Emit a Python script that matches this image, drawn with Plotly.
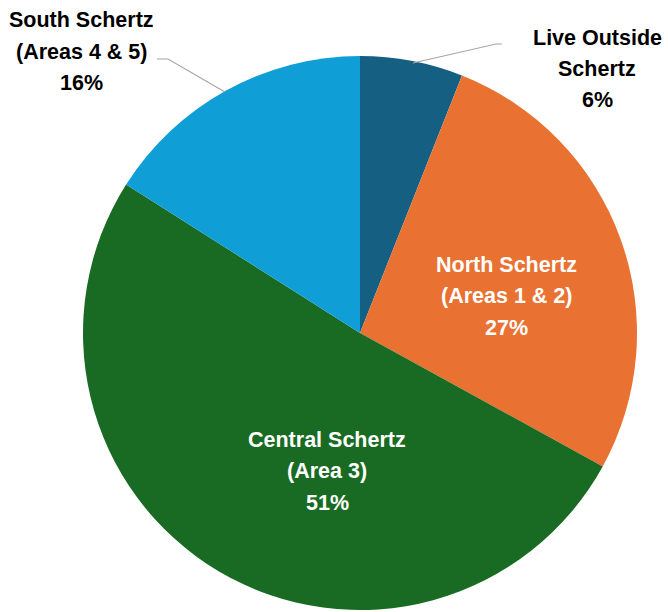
import plotly.graph_objects as go

W, H = 668, 612

# Data
categories = ["Live Outside<br>Schertz", "North Schertz<br>(Areas 1 & 2)",
              "Central Schertz<br>(Area 3)", "South Schertz<br>(Areas 4 & 5)"]
shares = [6, 27, 51, 16]
colors = ["#156082", "#E97132", "#196B24", "#0F9ED5"]

# label placement (pixels, block centre) and text colour
label_pos = [(597, 69), (506, 296), (327, 471), (81, 51.5)]
label_color = ["#000000", "#FFFFFF", "#FFFFFF", "#000000"]
line_gap = 31.5

def px(x):
    return x / W

def py(y):
    return 1 - y / H

cx, cy, r = 360, 333, 277

fig = go.Figure(go.Pie(
    labels=categories,
    values=shares,
    sort=False,
    direction="clockwise",
    rotation=0,
    marker=dict(colors=colors, line=dict(width=0)),
    textinfo="none",
    hoverinfo="label+percent",
    showlegend=False,
    domain=dict(x=[px(cx - r), px(cx + r)], y=[py(cy + r), py(cy - r)]),
))

annotations = []
for cat, v, (x, y), c in zip(categories, shares, label_pos, label_color):
    rows = cat.split("<br>") + [f"{v}%"]
    n = len(rows)
    for i, row in enumerate(rows):
        yy = y + (i - (n - 1) / 2) * line_gap
        annotations.append(dict(
            x=px(x), y=py(yy), xref="paper", yref="paper",
            text=f"<b>{row}</b>", showarrow=False,
            xanchor="center", yanchor="middle", align="center",
            font=dict(family="Liberation Sans, Arial, sans-serif", size=21.5, color=c),
        ))

# leader lines
leader_paths = [
    [(413, 63), (496, 44), (502, 44)],
    [(157, 59), (168, 59), (225, 92)],
]
shapes = []
for pts in leader_paths:
    path = "M " + " L ".join(f"{px(a)},{py(b)}" for a, b in pts)
    shapes.append(dict(type="path", xref="paper", yref="paper", path=path,
                       line=dict(color="#A6A6A6", width=1.2)))

fig.update_layout(
    width=W, height=H,
    margin=dict(l=0, r=0, t=0, b=0),
    paper_bgcolor="white", plot_bgcolor="white",
    annotations=annotations,
    shapes=shapes,
)

fig.write_html("out.html", config={"displayModeBar": False},
               post_script="document.body.style.margin='0';document.body.style.overflow='hidden';")
